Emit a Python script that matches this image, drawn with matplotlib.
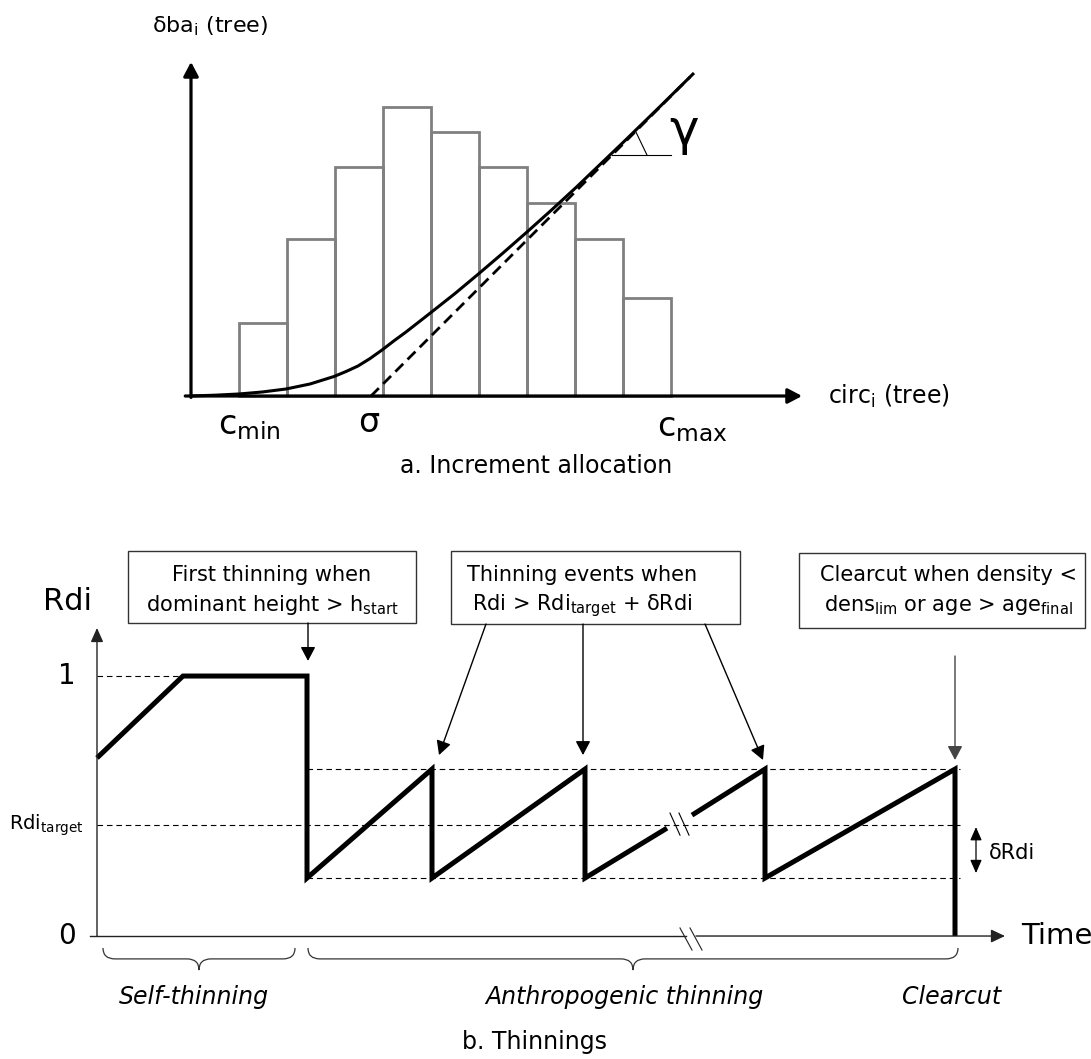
import matplotlib
matplotlib.use("Agg")
import matplotlib.pyplot as plt
from matplotlib.patches import Rectangle, PathPatch
from matplotlib.path import Path

# ---------------- panel a : increment allocation ----------------
# circumference classes (left edges) and number of trees per class
class_left = [1, 2, 3, 4, 5, 6, 7, 8, 9]
class_counts = [1.52, 3.27, 4.77, 6.02, 5.50, 4.77, 4.02, 3.27, 2.04]

# allocation curve
curve_circ = [0.0, 0.5, 1.0, 1.479, 1.979, 2.479, 2.979, 3.229, 3.479, 3.729,
              3.979, 4.229, 4.479, 5.0, 5.5, 6.0, 6.5, 7.0, 7.5, 8.021,
              8.521, 9.0, 9.771, 10.479]
curve_incr = [0.0, 0.017, 0.042, 0.083, 0.146, 0.25, 0.406, 0.51, 0.625, 0.78,
              0.958, 1.15, 1.333, 1.74, 2.135, 2.552, 2.979, 3.417, 3.865, 4.344,
              4.823, 5.281, 6.031, 6.729]

# asymptote (slope gamma, starting at sigma)
tangent_circ = [3.75, 10.40]
tangent_incr = [0.0, 6.65]

# ---------------- panel b : thinnings ----------------
rdi_max = 1.0
rdi_high = 0.642
rdi_target = 0.427
rdi_low = 0.223

# Rdi trajectory, split by the time break
rdi_time_1 = [0.0, 8.6, 21.0, 21.0, 33.5, 33.5, 48.8, 48.8, 57.0]
rdi_value_1 = [0.685, 1.0, 1.0, 0.223, 0.642, 0.223, 0.642, 0.223, 0.415]
rdi_time_2 = [59.5, 66.8, 66.8, 85.8, 85.8]
rdi_value_2 = [0.465, 0.642, 0.223, 0.642, 0.0]

first_thin = 21.0
clearcut = 85.8
time_end = 86.3


def Arrow(ax, start, end, lw=1.0, color="black", hl=0.85, hw=0.45):
    """Draws a straight arrow with a filled head"""
    ax.annotate("", xy=end, xytext=start,
                arrowprops=dict(arrowstyle=f"-|>,head_length={hl},head_width={hw}",
                                lw=lw, color=color, shrinkA=0, shrinkB=0,
                                mutation_scale=10))


def Brace(ax, x0, x1, y_top, y_mid, y_tip, r):
    """Draws a horizontal curly brace opening upwards"""
    xc = (x0 + x1) / 2
    verts = [(x0, y_top), (x0, y_mid), (x0 + r, y_mid), (xc - r, y_mid),
             (xc, y_mid), (xc, y_tip), (xc, y_mid), (xc + r, y_mid),
             (x1 - r, y_mid), (x1, y_mid), (x1, y_top)]
    codes = [Path.MOVETO, Path.CURVE3, Path.CURVE3, Path.LINETO,
             Path.CURVE3, Path.CURVE3, Path.CURVE3, Path.CURVE3,
             Path.LINETO, Path.CURVE3, Path.CURVE3]
    ax.add_patch(PathPatch(Path(verts, codes), fill=False, lw=0.9, edgecolor="#333333"))


def PanelA(fig):
    ax = fig.add_axes([0, 1 - 480 / 1059, 1, 480 / 1059])
    ax.set_xlim(-191 / 48, 900 / 48)
    ax.set_ylim(-84 / 48, 396 / 48)
    ax.axis("off")

    centers = [c + 0.5 for c in class_left]
    ax.bar(centers, class_counts, width=1.0, fill=False, edgecolor="#808080",
           linewidth=2.0, zorder=1)
    ax.plot(curve_circ, curve_incr, color="black", lw=2.2, zorder=3,
            solid_capstyle="butt", solid_joinstyle="round")
    ax.plot(tangent_circ, tangent_incr, color="black", lw=2.0, zorder=3,
            linestyle=(0, (4, 2.2)))

    # gamma angle marker
    ax.plot([8.77, 10.0], [5.02, 5.02], color="black", lw=0.8, zorder=3)
    ax.plot([9.25, 9.5], [5.54, 5.02], color="black", lw=0.8, zorder=3)
    ax.text(10.27, 5.52, "γ", fontsize=36, ha="center", va="center")

    # axes
    Arrow(ax, (-0.12, 0), (12.73, 0), lw=2.3)
    Arrow(ax, (0, -0.03), (0, 6.96), lw=2.3)

    ax.text(0.4, 7.7, r"δba$_{\mathrm{i}}$ (tree)", fontsize=16, ha="center", va="center")
    ax.text(13.27, 0.0, r"circ$_{\mathrm{i}}$ (tree)", fontsize=17, ha="left", va="center")
    ax.text(0.56, -0.62, r"c$_{\mathrm{min}}$", fontsize=24, ha="left", va="center")
    ax.text(3.71, -0.55, "σ", fontsize=24, ha="center", va="center")
    ax.text(9.71, -0.65, r"c$_{\mathrm{max}}$", fontsize=24, ha="left", va="center")
    ax.text(7.19, -1.46, "a. Increment allocation", fontsize=17, ha="center", va="center")


def PanelB(fig):
    ax = fig.add_axes([0, 0, 1, 579 / 1059])
    ax.set_xlim(-9.7, 99.4)
    ax.set_ylim(-0.473, 1.754)
    ax.axis("off")

    dash = dict(color="black", lw=0.8, linestyle=(0, (5, 3.5)), zorder=1)
    ax.plot([0, 8.6], [rdi_max, rdi_max], **dash)
    ax.plot([first_thin, time_end], [rdi_high, rdi_high], **dash)
    ax.plot([0, time_end], [rdi_target, rdi_target], **dash)
    ax.plot([first_thin, time_end], [rdi_low, rdi_low], **dash)

    thick = dict(color="black", lw=3.6, solid_joinstyle="miter", solid_capstyle="butt", zorder=3)
    ax.plot(rdi_time_1, rdi_value_1, **thick)
    ax.plot(rdi_time_2, rdi_value_2, **thick)

    # break marks on the trajectory
    for x in [57.8, 58.7]:
        ax.plot([x - 0.5, x + 0.5], [0.473, 0.388], color="black", lw=0.8, zorder=4)

    # axes with a break on the time axis
    ax.plot([-0.7, 58.9], [0, 0], color="#222222", lw=1.0)
    Arrow(ax, (59.9, 0), (90.8, 0), lw=1.0, color="#222222", hl=0.85, hw=0.4)
    for x in [58.9, 59.9]:
        ax.plot([x - 0.6, x + 0.6], [0.031, -0.054], color="#222222", lw=0.8)
    Arrow(ax, (0, 0), (0, 1.185), lw=1.0, color="#222222", hl=0.85, hw=0.38)

    ax.text(-2.9, 1.285, "Rdi", fontsize=22, ha="center", va="center")
    ax.text(-3.0, rdi_max, "1", fontsize=20, ha="center", va="center")
    ax.text(-3.0, 0.0, "0", fontsize=20, ha="center", va="center")
    ax.text(-5.1, rdi_target, r"Rdi$_{\mathrm{target}}$", fontsize=14, ha="center", va="center")
    ax.text(92.4, 0.0, "Time", fontsize=21, ha="left", va="center")

    # delta Rdi
    ax.annotate("", xy=(87.9, 0.242), xytext=(87.9, 0.419),
                arrowprops=dict(arrowstyle="<|-|>,head_length=0.8,head_width=0.35",
                                lw=0.9, color="black", shrinkA=0, shrinkB=0,
                                mutation_scale=10))
    ax.text(89.2, 0.32, "δRdi", fontsize=15, ha="left", va="center")

    # boxes
    boxes = [(3.1, 1.204, 28.8, 0.277), (35.4, 1.200, 28.9, 0.281), (70.2, 1.185, 28.6, 0.288)]
    for x, y, w, h in boxes:
        ax.add_patch(Rectangle((x, y), w, h, fill=False, lw=1.0, edgecolor="#333333"))
    lines = [(17.5, "First thinning when", r"dominant height > h$_{\mathrm{start}}$"),
             (48.5, "Thinning events when", r"Rdi > Rdi$_{\mathrm{target}}$ + δRdi"),
             (85.1, "Clearcut when density <", r"dens$_{\mathrm{lim}}$ or age > age$_{\mathrm{final}}$")]
    for xc, l1, l2 in lines:
        ax.text(xc, 1.39, l1, fontsize=15, ha="center", va="center")
        ax.text(xc, 1.272, l2, fontsize=15, ha="center", va="center")

    # arrows from boxes
    Arrow(ax, (first_thin + 0.1, 1.204), (first_thin + 0.1, 1.058))
    Arrow(ax, (38.9, 1.200), (34.2, 0.696))
    Arrow(ax, (48.6, 1.200), (48.6, 0.696))
    Arrow(ax, (60.8, 1.200), (66.6, 0.677))
    Arrow(ax, (clearcut, 1.077), (clearcut, 0.677), color="#444444")

    # braces and phase labels
    Brace(ax, 0.6, 19.8, -0.046, -0.088, -0.131, 1.2)
    Brace(ax, 21.1, 86.1, -0.046, -0.088, -0.131, 1.2)
    ax.text(9.7, -0.235, "Self-thinning", fontsize=17, style="italic", ha="center", va="center")
    ax.text(52.7, -0.235, "Anthropogenic thinning", fontsize=17, style="italic", ha="center", va="center")
    ax.text(85.5, -0.235, "Clearcut", fontsize=17, style="italic", ha="center", va="center")
    ax.text(43.8, -0.408, "b. Thinnings", fontsize=17, ha="center", va="center")


def main():
    fig = plt.figure(figsize=(10.91, 10.59), dpi=100)
    PanelA(fig)
    PanelB(fig)
    fig.savefig("out.png", dpi=100, facecolor="white")


if __name__ == "__main__":
    main()
